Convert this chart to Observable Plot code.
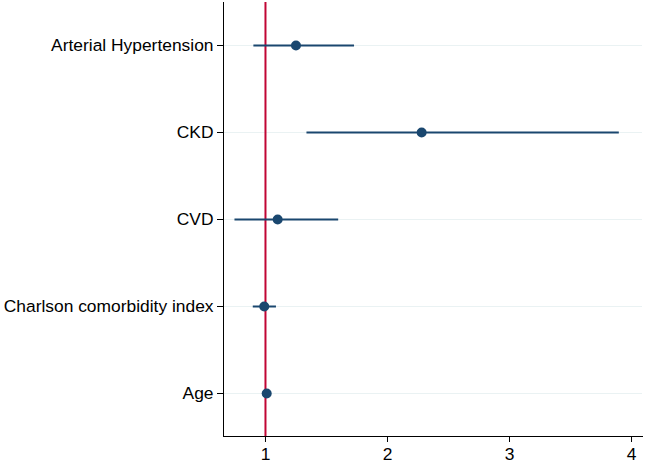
<!DOCTYPE html>
<html>
<head>
<meta charset="utf-8">
<script src="https://cdn.jsdelivr.net/npm/d3@7"></script>
<script src="https://cdn.jsdelivr.net/npm/@observablehq/plot@0.6"></script>
<style>
html, body { margin: 0; padding: 0; background: #fff; }
#chart svg { display: block; }
</style>
</head>
<body>
<div id="chart"></div>
<script>
const categories = ["Arterial Hypertension", "CKD", "CVD", "Charlson comorbidity index", "Age"];
const estimate = [1.25, 2.28, 1.10, 0.99, 1.01];
const lower = [0.905, 1.34, 0.75, 0.90, 1.00];
const upper = [1.73, 3.90, 1.60, 1.09, 1.03];
const xTicks = [1, 2, 3, 4];

const rows = categories.map((c, i) => ({ name: c, est: estimate[i], lo: lower[i], hi: upper[i] }));

const chart = Plot.plot({
  width: 645,
  height: 465,
  marginLeft: 223,
  marginTop: 2,
  marginBottom: 29,
  marginRight: 3,
  style: { fontFamily: "'Liberation Sans', Arial, sans-serif", fontSize: "17.4px", color: "#000", background: "#fff" },
  x: { domain: [0.656, 4.09] },
  y: { type: "point", domain: categories, padding: 0.48 },
  marks: [
    Plot.gridY(categories, { stroke: "#eaf2f3", strokeOpacity: 1, strokeWidth: 1 }),
    Plot.ruleX([1], { stroke: "#c10534", strokeWidth: 2 }),
    Plot.ruleY(rows, { y: "name", x1: "lo", x2: "hi", stroke: "#1a476f", strokeWidth: 2 }),
    Plot.dot(rows, { x: "est", y: "name", r: 5, fill: "#1a476f", stroke: "none" }),
    Plot.frame({ anchor: "left", stroke: "#000", strokeWidth: 1 }),
    Plot.frame({ anchor: "bottom", stroke: "#000", strokeWidth: 1 }),
    Plot.axisX(xTicks, { tickSize: 6, tickPadding: 5, label: null, fontSize: 17.4, tickFormat: d => String(d), stroke: "#000", fill: "#000" }),
    Plot.axisY({ tickSize: 6, tickPadding: 4, label: null, fontSize: 17.4, stroke: "#000", fill: "#000" })
  ]
});
document.getElementById("chart").append(chart);
</script>
</body>
</html>
